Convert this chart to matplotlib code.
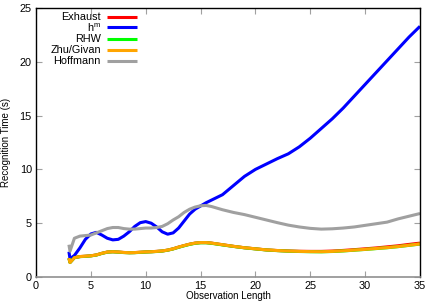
import matplotlib
matplotlib.use("Agg")
import matplotlib.pyplot as plt

plt.rcParams['font.family'] = ['Liberation Sans', 'DejaVu Sans']
plt.rcParams['mathtext.fontset'] = 'custom'
plt.rcParams['mathtext.rm'] = 'Liberation Sans'
plt.rcParams['mathtext.it'] = 'Liberation Sans'

# observation length (x) shared by all series
obs_len = [3, 3.1, 3.5, 4, 4.5, 5, 5.5, 6, 6.5, 7, 7.5, 8, 8.5, 9, 9.5, 10,
           10.5, 11, 11.5, 12, 12.5, 13, 13.5, 14, 14.5, 15, 15.5, 16, 17, 18,
           19, 20, 21, 22, 23, 24, 25, 26, 27, 28, 29, 30, 31, 32, 33, 34, 35]

hm = [2.35, 1.7, 2.0, 2.7, 3.5, 4.0, 4.15, 3.9, 3.6, 3.45, 3.5, 3.8, 4.2, 4.7,
      5.05, 5.15, 5.0, 4.65, 4.2, 3.98, 4.1, 4.55, 5.2, 5.85, 6.3, 6.6, 6.9,
      7.15, 7.65, 8.5, 9.35, 10.0, 10.5, 11.0, 11.45, 12.1, 12.9, 13.8, 14.7,
      15.7, 16.8, 17.9, 19.0, 20.1, 21.2, 22.3, 23.3]

hoffmann = [3.0, 2.4, 3.6, 3.8, 3.85, 3.9, 4.1, 4.3, 4.5, 4.6, 4.6, 4.5, 4.45,
            4.45, 4.5, 4.55, 4.55, 4.6, 4.7, 4.95, 5.3, 5.6, 6.0, 6.3, 6.5,
            6.62, 6.65, 6.55, 6.25, 6.0, 5.8, 5.55, 5.3, 5.05, 4.82, 4.65,
            4.52, 4.45, 4.48, 4.55, 4.65, 4.8, 4.95, 5.1, 5.4, 5.65, 5.9]

zhu_givan = [1.75, 1.35, 1.8, 1.9, 1.93, 1.97, 2.05, 2.2, 2.32, 2.35, 2.32,
             2.28, 2.26, 2.27, 2.3, 2.33, 2.35, 2.38, 2.42, 2.5, 2.62, 2.78,
             2.92, 3.05, 3.15, 3.2, 3.2, 3.15, 3.0, 2.85, 2.72, 2.62, 2.52,
             2.46, 2.41, 2.38, 2.36, 2.35, 2.38, 2.43, 2.5, 2.57, 2.65, 2.73,
             2.83, 2.95, 3.07]

exhaust = [1.75, 1.35, 1.8, 1.9, 1.93, 1.97, 2.05, 2.2, 2.32, 2.35, 2.32,
           2.28, 2.26, 2.27, 2.3, 2.33, 2.35, 2.38, 2.42, 2.5, 2.62, 2.78,
           2.92, 3.05, 3.15, 3.2, 3.2, 3.15, 3.0, 2.85, 2.72, 2.62, 2.52,
           2.46, 2.42, 2.39, 2.38, 2.38, 2.41, 2.47, 2.54, 2.62, 2.7, 2.8,
           2.9, 3.03, 3.15]

rhw = [1.74, 1.34, 1.79, 1.89, 1.92, 1.96, 2.04, 2.19, 2.31, 2.34, 2.31,
       2.27, 2.25, 2.26, 2.29, 2.32, 2.34, 2.37, 2.41, 2.49, 2.61, 2.76,
       2.9, 3.03, 3.13, 3.18, 3.18, 3.13, 2.98, 2.84, 2.71, 2.61, 2.51,
       2.45, 2.4, 2.37, 2.35, 2.34, 2.37, 2.42, 2.49, 2.56, 2.64, 2.72,
       2.82, 2.94, 3.06]

labels = ['Exhaust', r'h$^{\mathregular{m}}$', 'RHW', 'Zhu/Givan', 'Hoffmann']
colors = ['#ff0000', '#0000ff', '#00ff00', '#ffa500', '#a0a0a0']
series = [exhaust, hm, rhw, zhu_givan, hoffmann]

fig = plt.figure(figsize=(4.36, 3.05), dpi=100, facecolor='white')
ax = fig.add_axes([36 / 436, 1 - 277 / 305, 384 / 436, 269 / 305])

for vals, col in zip(series, colors):
    ax.plot(obs_len, vals, color=col, linewidth=2.2, solid_capstyle='butt')

ax.set_xlim(0, 35)
ax.set_ylim(0, 25)
ax.set_xticks(range(0, 36, 5))
ax.set_yticks(range(0, 26, 5))
ax.tick_params(direction='in', length=4, width=0.8, color='#a0a0a0',
               labelsize=7.8, top=True, right=True, pad=3)
for s in ['top', 'left', 'right']:
    ax.spines[s].set_color('black')
    ax.spines[s].set_linewidth(1.0)
ax.spines['bottom'].set_color('#909090')
ax.spines['bottom'].set_linewidth(1.2)

ax.set_xlabel('Observation Length', fontsize=7, labelpad=0)
ax.set_ylabel('Recognition Time (s)', fontsize=7, labelpad=6)

# key in the top-left corner, text right-justified before the sample line
key_y = [0.968, 0.928, 0.886, 0.844, 0.803]
for lab, col, yy in zip(labels, colors, key_y):
    ax.text(0.169, yy, lab, ha='right', va='center', fontsize=7.8,
            transform=ax.transAxes)
    ax.plot([0.185, 0.263], [yy, yy], color=col, linewidth=2.2,
            transform=ax.transAxes, solid_capstyle='butt')

fig.savefig('out.png', dpi=100)
